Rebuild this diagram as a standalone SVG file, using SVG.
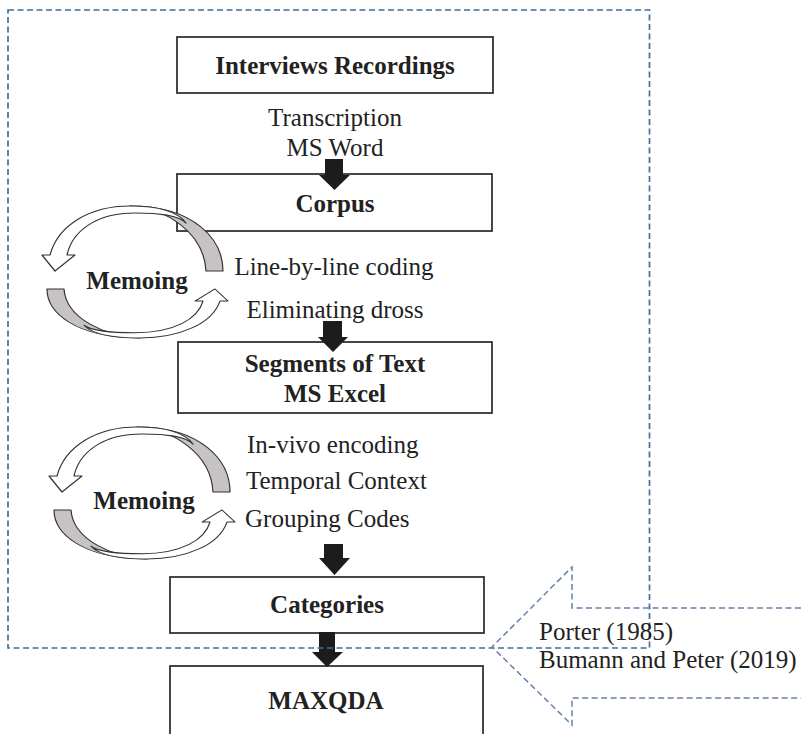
<svg xmlns="http://www.w3.org/2000/svg" width="801" height="734" viewBox="0 0 801 734">
<style>
.box{fill:#fff;stroke:#333;stroke-width:1.8}
.lbl{font-family:"Liberation Serif","Times New Roman",serif;font-size:25px;fill:#222}
.b{font-weight:bold;text-anchor:middle}
.c{text-anchor:middle}
.blk{fill:#1c1c1c}
.gray{fill:#c8c3c3;stroke:#333;stroke-width:1.2;stroke-linejoin:round}
.wht{fill:#fff;stroke:#333;stroke-width:1.2;stroke-linejoin:round}
.dash{fill:none;stroke:#3d6f9f;stroke-width:1.7;stroke-dasharray:6 3.5}
.dash2{fill:none;stroke:#6681ad;stroke-width:1.5;stroke-dasharray:6 3.5}
</style>
<defs>
<clipPath id="clipInvivo"><rect x="0" y="0" width="801" height="458"/></clipPath>
<g id="cyc">
<path class="gray" d="M 223,271 C 223,240 195,206 130,206 C 165,208 204,232 206,271 Z"/>
<path class="wht" d="M 186,223 C 178,212 160,206 130,206 C 90,206 58,225 50,255 L 42,255 L 55,271 L 75,255 L 67,255 C 72,232 95,213 135,213 C 160,213 178,215 186,223 Z"/>
</g>
</defs>
<rect width="801" height="734" fill="#fff"/>

<g id="node-interviews">
<rect class="box" x="177" y="37" width="316" height="56"/>
<text class="lbl b" x="335" y="74">Interviews Recordings</text>
</g>
<g id="label-transcription">
<text class="lbl c" x="335" y="126">Transcription</text>
<text class="lbl c" x="335" y="156">MS Word</text>
</g>
<g id="node-corpus">
<rect class="box" x="177" y="174" width="315" height="57"/>
<text class="lbl b" x="335" y="212">Corpus</text>
</g>
<g id="memo1">
<use href="#cyc"/>
<use href="#cyc" transform="matrix(-1 0 0 -0.754 270 493.3)"/>
<text class="lbl b" x="137" y="289">Memoing</text>
</g>
<g id="label-coding">
<text class="lbl c" x="334" y="275">Line-by-line coding</text>
<text class="lbl c" x="335" y="318">Eliminating dross</text>
</g>
<g id="node-segments">
<rect class="box" x="178" y="342" width="314" height="71"/>
<text class="lbl b" x="335" y="372">Segments of Text</text>
<text class="lbl b" x="335" y="402">MS Excel</text>
</g>
<g id="memo2" transform="translate(7,221)">
<use href="#cyc"/>
<use href="#cyc" transform="matrix(-1 0 0 -0.754 270 493.3)"/>
<text class="lbl b" x="137" y="288">Memoing</text>
</g>
<g id="label-encoding">
<text class="lbl" x="247" y="453" clip-path="url(#clipInvivo)">In-vivo encoding</text>
<text class="lbl" x="246" y="489">Temporal Context</text>
<text class="lbl" x="245" y="527">Grouping Codes</text>
</g>
<g id="node-categories">
<rect class="box" x="170" y="577" width="314" height="56"/>
<text class="lbl b" x="327" y="613">Categories</text>
</g>
<g id="node-maxqda">
<rect class="box" x="170" y="666" width="313" height="80"/>
<text class="lbl b" x="326" y="709">MAXQDA</text>
</g>

<g id="connectors">
<path class="blk" d="M 325,159 H 343 V 175 H 350 L 334.5,190 L 319,175 H 325 Z"/>
<path class="blk" d="M 323,321 H 342 V 337 H 348 L 333,352 L 318,337 H 323 Z"/>
<path class="blk" d="M 324,544 H 343 V 558 H 350 L 334.5,575 L 319,558 H 324 Z"/>
<path class="blk" d="M 319,632 H 335 V 652 H 343 L 327,667 L 312,652 H 319 Z"/>
</g>

<g id="frame">
<rect class="dash" x="8" y="10" width="641.5" height="638"/>
</g>
<g id="source-arrow">
<path class="dash2" d="M 801,608 H 572 V 567 L 492,647 L 572,725 V 698 H 801"/>
<text class="lbl" x="539" y="640">Porter (1985)</text>
<text class="lbl" x="539" y="668">Bumann and Peter (2019)</text>
</g>
</svg>
